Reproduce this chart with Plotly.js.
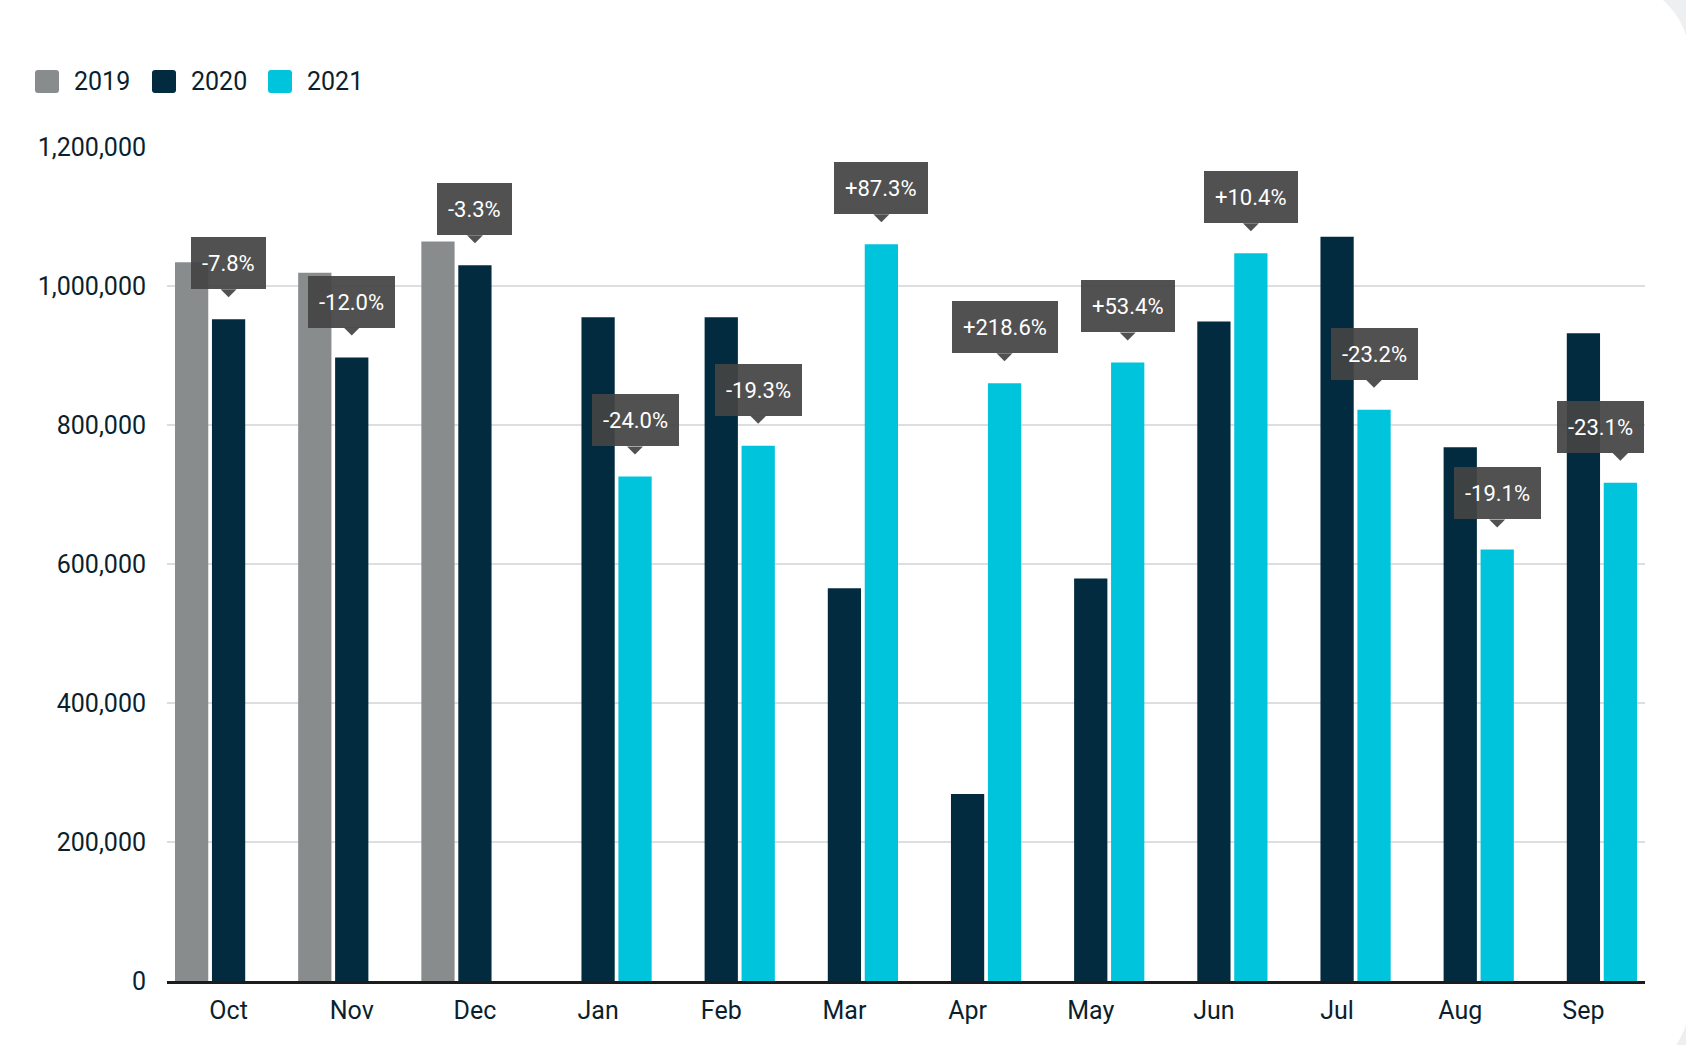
<!DOCTYPE html>
<html><head><meta charset="utf-8">
<script src="https://cdn.plot.ly/plotly-3.0.1.min.js"></script>
<style>
html,body{margin:0;padding:0;background:#eeeff0;overflow:hidden;}
#card{position:absolute;left:-40px;top:-20px;width:1730px;height:1100px;background:#ffffff;border-radius:80px;}
#chart{position:absolute;left:0;top:0;width:1686px;height:1045px;}
</style></head><body>
<div id="card"></div><div id="chart"></div>
<script>
const months = ['Oct','Nov','Dec','Jan','Feb','Mar','Apr','May','Jun','Jul','Aug','Sep'];
const seriesNames = ['2019','2020','2021'];
const seriesColors = ['#898c8d','#022b40','#00c3dc'];
const values2019 = [1034000, 1019000, 1064000, null, null, null, null, null, null, null, null, null];
const values2020 = [952000, 897000, 1030000, 955000, 955000, 565000, 269000, 579000, 949000, 1071000, 768000, 932000];
const values2021 = [null, null, null, 726000, 770000, 1060000, 860000, 890000, 1047000, 822000, 621000, 717000];
const changeLabels = ['-7.8%','-12.0%','-3.3%','-24.0%','-19.3%','+87.3%','+218.6%','+53.4%','+10.4%','-23.2%','-19.1%','-23.1%'];
const yTicks = [0, 200000, 400000, 600000, 800000, 1000000, 1200000];

const FONT = 'Roboto, "Noto Sans", sans-serif';
const TEXTC = '#0b1f2e';
const BOX = 'rgba(68,68,68,0.93)';
const bargap = 0.1;
const slot = (1 - bargap) / 3;

const W = 1686, H = 1045;
const M = {l: 167, r: 41, t: 147, b: 64, pad: 0};
const plotW = W - M.l - M.r;

const allValues = [values2019, values2020, values2021];
const traces = allValues.map((v, k) => ({
  type: 'bar', name: seriesNames[k], x: months, y: v,
  marker: {color: seriesColors[k], line: {width: 0}},
  hoverinfo: 'skip', showlegend: false
}));

function roundRect(x0, y0, x1, y1, r) {
  return `M ${x0+r},${y0} L ${x1-r},${y0} Q ${x1},${y0} ${x1},${y0+r} L ${x1},${y1-r} Q ${x1},${y1} ${x1-r},${y1} L ${x0+r},${y1} Q ${x0},${y1} ${x0},${y1-r} L ${x0},${y0+r} Q ${x0},${y0} ${x0+r},${y0} Z`;
}
// rough label width estimate (Roboto em widths) to keep callouts inside the plot area
const EM = {'-':0.34,'+':0.57,'.':0.26,'%':0.73};
function labelWidth(s, size) {
  let w = 0; for (const c of s) w += (EM[c] !== undefined ? EM[c] : 0.562);
  return w * size + 22;
}

const annotations = [];
const shapes = [];
months.forEach((m, i) => {
  const useNew = values2021[i] !== null;
  const val = useNew ? values2021[i] : values2020[i];
  const xpos = i + (useNew ? slot : 0);
  const cx = (xpos + 0.5) / months.length * plotW;
  const half = labelWidth(changeLabels[i], 22) / 2;
  let xs = 0;
  if (cx + half > plotW) xs = plotW - (cx + half);
  annotations.push({
    xref: 'x', yref: 'y', x: xpos, y: val, yanchor: 'bottom', xanchor: 'center',
    yshift: 30, xshift: xs, showarrow: false, text: changeLabels[i],
    font: {family: FONT, size: 22, color: '#ffffff'},
    bgcolor: BOX, borderpad: 11, borderwidth: 0, height: 30, valign: 'middle'
  });
  shapes.push({
    type: 'path', xref: 'x', yref: 'y', xsizemode: 'pixel', ysizemode: 'pixel',
    xanchor: xpos, yanchor: val,
    path: 'M -8,30 L 8,30 L 0,22 Z',
    fillcolor: BOX, line: {width: 0}, layer: 'above'
  });
});

const legendOffsets = [-132, -15, 101];
seriesNames.forEach((n, k) => {
  const x0 = legendOffsets[k];
  shapes.push({
    type: 'path', xref: 'paper', yref: 'paper', xsizemode: 'pixel', ysizemode: 'pixel',
    xanchor: 0, yanchor: 1,
    path: roundRect(x0, 54, x0 + 24, 77, 3),
    fillcolor: seriesColors[k], line: {width: 0}
  });
  annotations.push({
    xref: 'paper', yref: 'paper', x: 0, y: 1, xshift: x0 + 37, yshift: 65.5,
    xanchor: 'left', yanchor: 'middle', showarrow: false, text: n,
    font: {family: FONT, size: 25, color: TEXTC}
  });
});

const layout = {
  width: W, height: H,
  margin: M,
  paper_bgcolor: 'rgba(0,0,0,0)', plot_bgcolor: 'rgba(0,0,0,0)',
  barmode: 'group', bargap: bargap, bargroupgap: 0.1,
  showlegend: false,
  font: {family: FONT, color: TEXTC},
  xaxis: {
    type: 'category', categoryorder: 'array', categoryarray: months,
    range: [-0.5, months.length - 0.5],
    showline: true, linecolor: '#1c1c1c', linewidth: 2.5, showgrid: false,
    ticks: '', tickfont: {family: FONT, size: 25, color: TEXTC},
    ticklabelstandoff: 5, fixedrange: true
  },
  yaxis: {
    range: [0, 1200000], tickvals: yTicks, tickformat: ',d',
    showgrid: true, gridcolor: '#dcdfe0', gridwidth: 1.5, zeroline: false,
    showline: false, ticks: '', tickfont: {family: FONT, size: 25, color: TEXTC},
    ticklabelstandoff: 20, fixedrange: true
  },
  annotations: annotations, shapes: shapes
};

Plotly.newPlot('chart', traces, layout, {displayModeBar: false, staticPlot: true});
</script>
</body></html>
